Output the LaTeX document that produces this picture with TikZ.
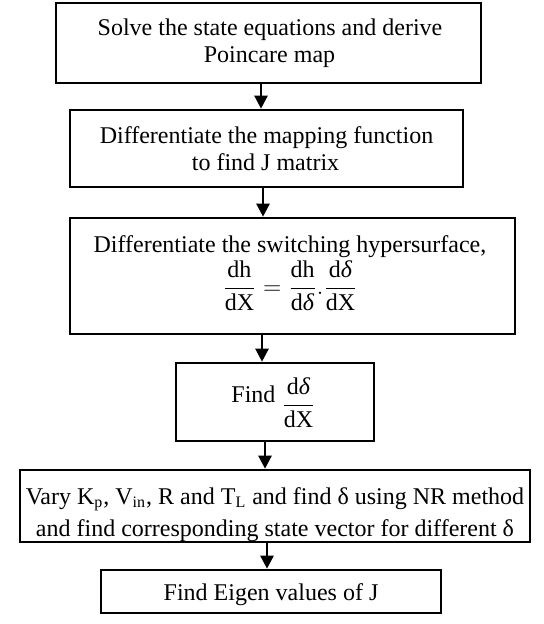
\documentclass[tikz,border=0pt]{standalone}
\usepackage{amsmath}
\usepackage{fontspec}
\setmainfont{Liberation Serif}
\usetikzlibrary{arrows.meta}
\begin{document}
\begin{tikzpicture}[x=0.5pt,y=-0.5pt,
  box/.style={draw, line width=1.3pt, inner sep=0pt},
  txt/.style={inner sep=0pt, anchor=base, font=\fontsize{12}{13.5}\selectfont},
  arr/.style={line width=1.2pt, -{Triangle[length=6.5pt,width=6.5pt]}}]
\useasboundingbox (0,0) rectangle (544,624);
% boxes
\node[box, minimum width=212.5pt, minimum height=40pt]   (b1) at (268.5,43) {};
\node[box, minimum width=196.5pt, minimum height=38.5pt] (b2) at (266.5,148.5) {};
\node[box, minimum width=222.5pt, minimum height=58pt]   (b3) at (292.5,276) {};
\node[box, minimum width=99pt,    minimum height=39pt]   (b4) at (275,402) {};
\node[box, minimum width=255pt,   minimum height=36pt]   (b5) at (275,506) {};
\node[box, minimum width=170pt,   minimum height=21.5pt] (b6) at (271,591.5) {};
% texts
\node[txt] (t1a) at (270,36) {Solve the state equations and derive};
\node[txt] (t1b) at (269.5,63) {Poincare map};
\node[txt] (t2a) at (266.5,144) {Differentiate the mapping function};
\node[txt] (t2b) at (265.5,171) {to find J matrix};
\node[txt] (t3a) at (290,253) {Differentiate the switching hypersurface,};
\node[txt] (t3b) at (290,294) {$\dfrac{\text{dh}}{\text{dX}}=\dfrac{\text{dh}}{\text{d\textit{δ}}}.\dfrac{\text{d\textit{δ}}}{\text{dX}}$};
\node[txt] (t4) at (273.5,402) {Find\ \raisebox{-4.5pt}{$\dfrac{\text{d\textit{δ}}}{\text{dX}}$}};
\node[txt] (t5a) at (275,504) {Vary K\textsubscript{p}, V\textsubscript{in}, R and T\textsubscript{L} and find δ using NR method};
\node[txt] (t5b) at (275,536) {and find corresponding state vector for different δ};
\node[txt] (t6) at (271,600) {Find Eigen values of J};
% arrows
\draw[arr] (b1.south -| 261,0) -- (b2.north -| 261,0);
\draw[arr] (b2.south -| 263,0) -- (b3.north -| 263,0);
\draw[arr] (b3.south -| 262,0) -- (b4.north -| 262,0);
\draw[arr] (b4.south -| 265,0) -- (b5.north -| 265,0);
\draw[arr] (b5.south -| 267,0) -- (b6.north -| 267,0);
\end{tikzpicture}
\end{document}
